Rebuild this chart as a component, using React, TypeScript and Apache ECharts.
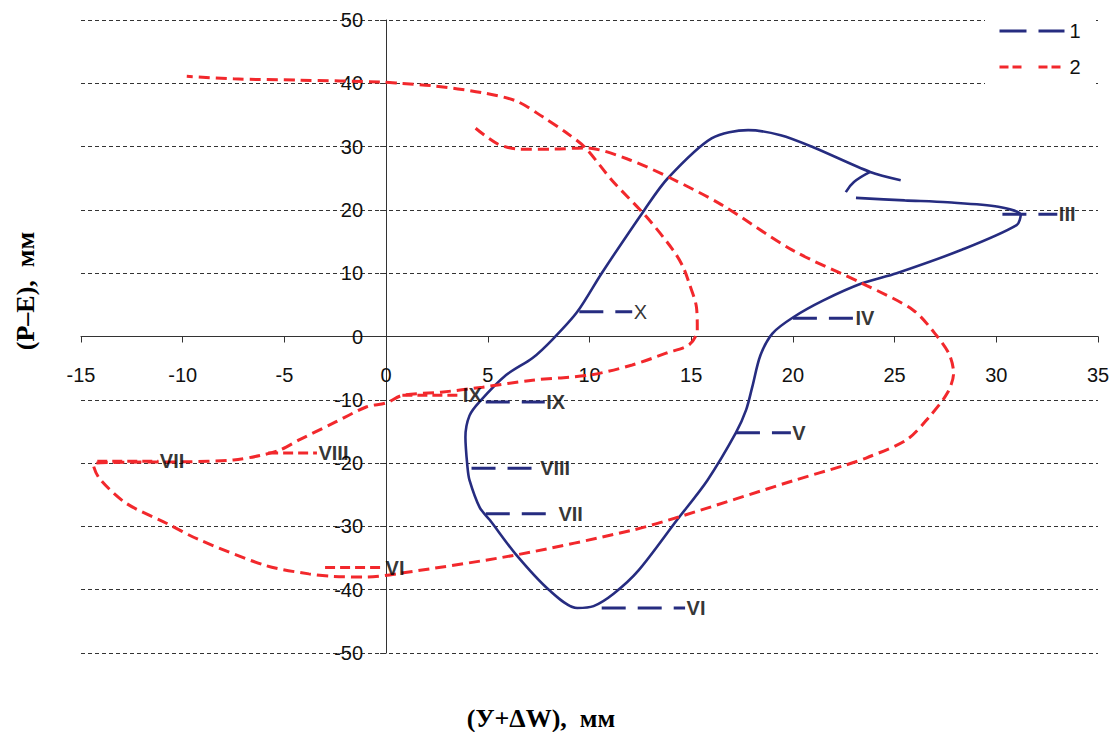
import React, { useEffect, useRef } from "react";
import * as echarts from "echarts";

// ---- Data ----
// Series 1: main curve, in order III -> IV -> ... -> X -> peak -> end
const series1Curve: number[][] = [
  [23.1, 21.9], [25.5, 21.5], [27.6, 21.2], [30.1, 20.5], [31.2, 19.2], [31.0, 17.6],
  [28.3, 13.7], [25.1, 10.0], [23.4, 8.4], [21.5, 5.7], [20.0, 3.0], [19.0, 0.5],
  [18.4, -3.0], [18.0, -8.0], [17.7, -11.6], [17.2, -15.2], [15.8, -22.7], [14.3, -29.0],
  [12.4, -37.0], [11.2, -40.6], [10.2, -42.6], [9.4, -42.9], [8.0, -40.0], [6.4, -34.5],
  [5.1, -29.0], [4.6, -27.0], [4.1, -22.7], [4.0, -20.6], [3.9, -15.9], [4.1, -12.5],
  [4.6, -10.3], [5.9, -6.1], [7.2, -3.4], [8.2, -0.4], [9.4, 3.9], [10.6, 10.0],
  [12.7, 20.0], [13.85, 25.0], [16.0, 31.3], [17.8, 32.6], [19.4, 31.8], [21.0, 29.9],
  [23.8, 26.0], [25.3, 24.7],
];
const series1Hook: number[][] = [[23.8, 26.0], [23.0, 24.4], [22.6, 22.8]];

// Series 1 month markers (leader line from -> to at height y, label at end)
const series1Months = ["III", "IV", "V", "VI", "VII", "VIII", "IX", "X"];
const series1LeaderY = [19.3, 2.9, -15.2, -42.9, -28.0, -20.8, -10.35, 3.9];
const series1LeaderFrom = [30.3, 20.0, 17.2, 10.6, 4.9, 4.2, 4.9, 9.5];
const series1LeaderTo = [33.0, 23.0, 19.9, 14.7, 8.4, 7.5, 7.8, 12.1];

// Series 2: curve
const series2Curve: number[][] = [
  [4.4, 32.9], [5.5, 30.4], [6.6, 29.6], [8.2, 29.6], [9.8, 29.8], [11.9, 28.0],
  [14.0, 25.0], [16.5, 20.8], [20.0, 13.6], [23.4, 8.4], [25.9, 4.2], [27.1, 0.0],
  [27.7, -2.9], [27.9, -5.8], [27.6, -8.9], [26.7, -12.7], [25.6, -16.3], [23.6, -19.2],
  [22.6, -20.3], [20.0, -22.8], [14.4, -28.5], [12.1, -30.6], [6.4, -34.5], [0.7, -37.4],
  [-1.0, -38.0], [-2.6, -37.9], [-3.8, -37.5], [-5.9, -36.2], [-9.2, -32.1], [-10.8, -29.5],
  [-12.8, -26.3], [-14.1, -22.4], [-14.4, -20.2], [-13.5, -19.9], [-10.0, -19.8], [-7.5, -19.5],
  [-6.2, -18.8], [-5.2, -17.9], [-4.25, -16.3], [-2.6, -13.7], [-0.95, -11.1], [0.0, -10.5],
  [0.8, -9.3], [2.7, -8.8], [4.75, -8.0], [7.2, -6.9], [10.0, -6.1], [12.1, -4.5],
  [13.8, -2.6], [14.9, -1.3], [15.3, 1.0], [15.26, 4.6], [14.9, 8.4], [14.6, 11.0],
  [14.1, 13.7], [12.8, 18.9], [11.1, 24.7], [9.8, 29.8], [8.9, 32.1], [7.7, 34.7],
  [6.4, 37.2], [4.75, 38.5], [2.3, 39.6], [0.7, 40.0], [-0.2, 40.2], [-4.3, 40.5],
  [-7.5, 40.7], [-9.8, 41.1],
];

// Series 2 month markers
const series2Months = ["VI", "VII", "VIII", "IX"];
const series2LeaderY = [-36.5, -19.7, -18.4, -9.3];
const series2LeaderFrom = [-3.0, -14.2, -5.8, 0.8];
const series2LeaderTo = [-0.1, -11.2, -3.4, 3.7];

const xTicks = { min: -15, max: 35, step: 5 };
const yTicks = { min: -50, max: 50, step: 10 };
const legendNames = ["1", "2"];
const xTitle = "(У+ΔW),  мм";
const yTitle = "(P–E),  мм";

// ---- Styles / layout ----
const BLUE = "#262C80";
const RED = "#F2282C";
const SANS = "Liberation Sans, Arial, sans-serif";
const SERIF = "Liberation Serif, Times New Roman, serif";
const thinLabels = ["X"];
const GRID = { left: 81, right: 22, top: 20, bottom: 79 };
const W = 1120;
const H = 732;

export default function App() {
  const ref = useRef<HTMLDivElement>(null);

  useEffect(() => {
    if (!ref.current) return;
    const chart = echarts.init(ref.current, undefined, { renderer: "svg" });

    // place the axes (line, ticks, labels) through the origin
    const gw = W - GRID.left - GRID.right;
    const gh = H - GRID.top - GRID.bottom;
    const xOffset = -((0 - yTicks.min) / (yTicks.max - yTicks.min)) * gh;
    const yOffset = -((0 - xTicks.min) / (xTicks.max - xTicks.min)) * gw;

    const leaderSeries: any[] = [];
    const labelData: any[] = [];
    const addLeaders = (
      months: string[], ys: number[], from: number[], to: number[], color: string,
      dash: number[], width: number, name: string
    ) => {
      months.forEach((m, i) => {
        leaderSeries.push({
          type: "line",
          name,
          data: [[from[i], ys[i]], [to[i], ys[i]]],
          symbol: "none",
          silent: true,
          lineStyle: { color, width, type: dash, cap: "butt" },
          z: 3,
        });
        labelData.push({
          value: [to[i], ys[i]],
          name: m,
          label: {
            show: true,
            position: "right",
            distance: 1,
            formatter: m,
            color: "#000",
            fontSize: 20,
            fontFamily: SANS,
            fontWeight: thinLabels.includes(m) && name === "1" ? "normal" : "bold",
          },
        });
      });
    };
    addLeaders(series1Months, series1LeaderY, series1LeaderFrom, series1LeaderTo, BLUE, [24, 12], 3, "1");
    addLeaders(series2Months, series2LeaderY, series2LeaderFrom, series2LeaderTo, RED, [10, 5], 3, "2");

    const option: any = {
      animation: false,
      backgroundColor: "#fff",
      grid: { ...GRID, containLabel: false },
      xAxis: {
        type: "value",
        min: xTicks.min,
        max: xTicks.max,
        interval: xTicks.step,
        position: "bottom",
        offset: xOffset,
        axisLine: { show: true, onZero: false, lineStyle: { color: "#333", width: 1 } },
        axisTick: { show: true, length: 6, inside: false, lineStyle: { color: "#333" } },
        axisLabel: { margin: 28, fontSize: 20, color: "#111", fontFamily: SANS },
        splitLine: { show: false },
      },
      yAxis: {
        type: "value",
        min: yTicks.min,
        max: yTicks.max,
        interval: yTicks.step,
        position: "left",
        offset: yOffset,
        axisLine: { show: true, onZero: false, lineStyle: { color: "#333", width: 1 } },
        axisTick: { show: true, length: 6, lineStyle: { color: "#333" } },
        axisLabel: { margin: 23, fontSize: 20, color: "#111", fontFamily: SANS },
        splitLine: { show: true, lineStyle: { color: "#333", width: 1, type: [4, 3] } },
      },
      legend: {
        orient: "vertical",
        left: 985,
        top: 11,
        padding: [10, 13, 10, 13],
        backgroundColor: "#fff",
        itemWidth: 65,
        itemHeight: 14,
        itemGap: 16,
        selectedMode: false,
        textStyle: { fontSize: 20, color: "#111", fontFamily: SANS },
        z: 10,
        data: [
          {
            name: legendNames[0],
            itemStyle: { opacity: 0 },
            lineStyle: { color: BLUE, width: 3, type: [27, 12] },
          },
          {
            name: legendNames[1],
            itemStyle: { opacity: 0 },
            lineStyle: { color: RED, width: 3, type: [9, 4, 9, 17] },
          },
        ],
      },
      graphic: [
        {
          type: "text",
          x: 25,
          y: 291,
          rotation: Math.PI / 2,
          style: {
            text: yTitle,
            fill: "#000",
            fontSize: 26,
            fontWeight: "bold",
            fontFamily: SERIF,
            align: "center",
            verticalAlign: "middle",
          },
        },
        {
          type: "text",
          x: 541,
          y: 718,
          style: {
            text: xTitle,
            fill: "#000",
            fontSize: 26,
            fontWeight: "bold",
            fontFamily: SERIF,
            align: "center",
            verticalAlign: "middle",
          },
        },
      ],
      series: [
        {
          type: "line",
          name: "1",
          data: series1Curve,
          smooth: 0.3,
          symbol: "none",
          lineStyle: { color: BLUE, width: 2.6 },
          z: 2,
        },
        {
          type: "line",
          name: "1",
          data: series1Hook,
          smooth: 0.4,
          symbol: "none",
          lineStyle: { color: BLUE, width: 2.6 },
          z: 2,
        },
        {
          type: "line",
          name: "2",
          data: series2Curve,
          smooth: 0.3,
          symbol: "none",
          lineStyle: { color: RED, width: 3, type: [11, 6] },
          z: 3,
        },
        ...leaderSeries,
        {
          type: "scatter",
          name: "labels",
          data: labelData,
          symbolSize: 1,
          itemStyle: { color: "rgba(0,0,0,0)" },
          silent: true,
          z: 5,
        },
      ],
    };

    chart.setOption(option);
    return () => chart.dispose();
  }, []);

  return (
    <div
      ref={ref}
      style={{ position: "fixed", left: 0, top: 0, width: W, height: H, background: "#fff" }}
    />
  );
}
